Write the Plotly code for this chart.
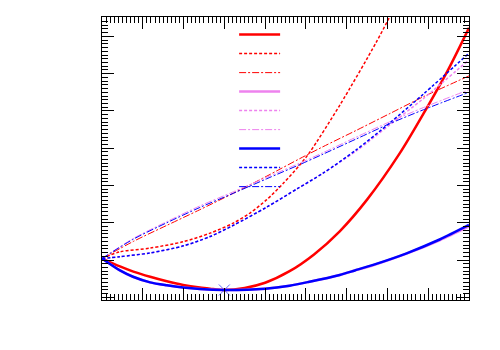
import plotly.graph_objects as go

# ---- data ----
x_red_solid = [0, 0.44, 0.77, 1.18, 1.59, 1.99, 2.4, 2.65, 3.0, 3.5, 4.0, 4.6, 5.2, 5.83, 6.5, 7.3, 7.88, 8.5, 9.0]
y_red_solid = [1.04, 0.83, 0.69, 0.55, 0.43, 0.33, 0.26, 0.23, 0.196, 0.25, 0.39, 0.70, 1.15, 1.77, 2.62, 3.86, 4.92, 6.13, 7.23]

x_red_dash = [0, 0.44, 1.18, 1.99, 2.65, 3.22, 3.63, 4.04, 4.44, 4.85, 5.10, 5.83, 6.73, 7.1]
y_red_dash = [1.04, 1.22, 1.32, 1.49, 1.72, 1.99, 2.26, 2.62, 3.05, 3.55, 3.90, 5.15, 6.85, 7.62]

x_red_dashdot = [0, 0.77, 1.59, 2.4, 3.22, 4.04, 4.85, 5.42, 6.24, 7.06, 7.88, 9.0]
y_red_dashdot = [1.04, 1.50, 1.93, 2.35, 2.79, 3.25, 3.72, 4.04, 4.48, 4.93, 5.38, 5.94]

x_solid = [0, 0.44, 0.76, 1.18, 1.59, 1.99, 2.4, 3.0, 4.0, 4.6, 5.06, 5.83, 6.2, 6.65, 7.47, 8.28, 9.0]
y_violet_solid = [1.04, 0.72, 0.55, 0.40, 0.32, 0.26, 0.22, 0.196, 0.23, 0.31, 0.41, 0.60, 0.72, 0.86, 1.17, 1.53, 1.90]
y_blue_solid = [1.04, 0.72, 0.55, 0.40, 0.32, 0.26, 0.22, 0.196, 0.23, 0.31, 0.41, 0.60, 0.72, 0.87, 1.18, 1.55, 1.94]

x_dash = [0, 0.44, 1.18, 2.0, 2.65, 3.22, 4.04, 4.8, 5.42, 6.24, 7.06, 7.88, 9.0]
y_violet_dash = [1.04, 1.09, 1.19, 1.38, 1.63, 1.93, 2.42, 2.92, 3.33, 3.93, 4.63, 5.33, 6.37]
y_blue_dash = [1.04, 1.09, 1.19, 1.38, 1.63, 1.93, 2.42, 2.92, 3.33, 3.96, 4.68, 5.45, 6.55]

x_dashdot = [0, 0.77, 1.59, 2.4, 3.22, 4.04, 4.85, 5.42, 6.24, 7.06, 7.88, 9.0]
y_violet_dashdot = [1.04, 1.58, 2.03, 2.45, 2.83, 3.22, 3.60, 3.88, 4.30, 4.71, 5.09, 5.57]
y_blue_dashdot = [1.04, 1.56, 2.00, 2.41, 2.79, 3.18, 3.56, 3.84, 4.25, 4.66, 5.03, 5.50]

x_min = [3.0]
y_min = [0.196]

x_range = [0, 9]
y_range = [-0.073, 7.52]

# ---- styles ----
RED = "#ff0000"
VIOLET = "#ee82ee"
BLUE = "#0000ff"
DASH = "3px,2px"
DASHDOT = "7px,2px,2px,2px"

series = [
    (x_red_solid, y_red_solid, RED, "solid", 2.5),
    (x_red_dash, y_red_dash, RED, DASH, 1.5),
    (x_red_dashdot, y_red_dashdot, RED, DASHDOT, 1.0),
    (x_solid, y_violet_solid, VIOLET, "solid", 2.5),
    (x_dash, y_violet_dash, VIOLET, DASH, 1.5),
    (x_dashdot, y_violet_dashdot, VIOLET, DASHDOT, 1.0),
    (x_solid, y_blue_solid, BLUE, "solid", 2.5),
    (x_dash, y_blue_dash, BLUE, DASH, 1.5),
    (x_dashdot, y_blue_dashdot, BLUE, DASHDOT, 1.0),
]

fig = go.Figure()

fig.add_trace(go.Scatter(
    x=x_min, y=y_min, mode="markers", showlegend=False,
    marker=dict(symbol="x-thin-open", size=11, line=dict(color="#888888", width=1)),
))

for xs, ys, col, dash, w in series:
    fig.add_trace(go.Scatter(
        x=xs, y=ys, mode="lines", name="",
        line=dict(color=col, dash=dash, width=w, shape="spline", smoothing=0.8),
    ))

axis_common = dict(
    showline=True, linecolor="#000000", linewidth=1, mirror="ticks",
    ticks="inside", ticklen=12, tickcolor="#000000", tickwidth=1,
    showticklabels=False, showgrid=False, zeroline=False,
    minor=dict(ticks="inside", ticklen=6, tickcolor="#000000", tickwidth=1, showgrid=False),
)

fig.update_xaxes(range=x_range, tick0=0, dtick=1, minor_dtick=0.1, **axis_common)
fig.update_yaxes(range=y_range, tick0=0, dtick=1, minor_dtick=0.1, **axis_common)

fig.update_layout(
    width=492, height=342,
    margin=dict(l=94, r=31, t=9, b=50),
    plot_bgcolor="white", paper_bgcolor="white",
    font=dict(family="DejaVu Sans", size=10),
    legend=dict(x=0.36, xanchor="left", y=0.989, yanchor="top", itemwidth=41,
                bgcolor="rgba(0,0,0,0)", borderwidth=0, font=dict(size=10)),
)

fig.write_html("out.html")
